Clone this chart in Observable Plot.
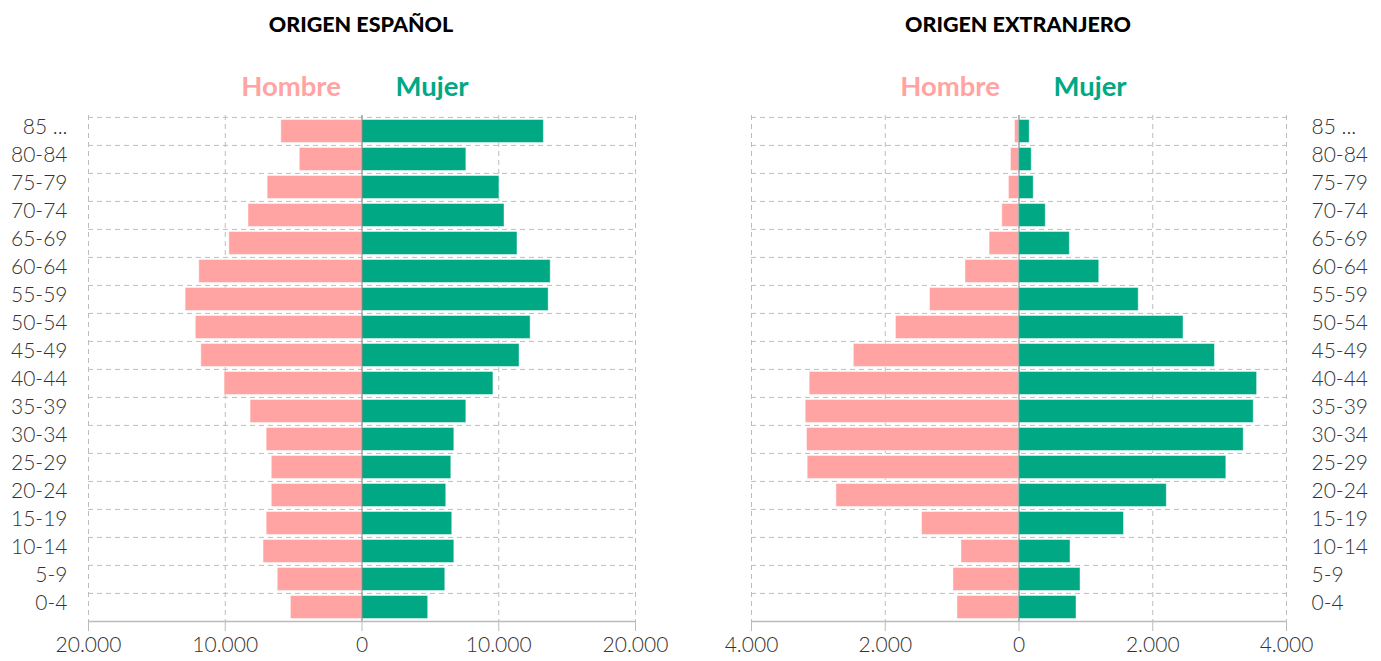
<!DOCTYPE html>
<html><head><meta charset="utf-8">
<script src="https://cdn.jsdelivr.net/npm/d3@7"></script>
<script src="https://cdn.jsdelivr.net/npm/@observablehq/plot@0.6"></script>
<style>
body{margin:0;background:#fff;font-family:Lato,sans-serif;}
#wrap{position:relative;width:1381px;height:661px;overflow:hidden}
.panel{position:absolute;top:0;height:661px}
.title{position:absolute;top:11px;font-weight:900;font-size:21.5px;transform:translateX(-50%);white-space:nowrap;color:#000;letter-spacing:0px}
.lg{position:absolute;top:69px;font-weight:700;font-size:27.5px;transform:translateX(-50%);white-space:nowrap}
</style></head>
<body>
<div id="wrap">
  <div class="title" style="left:361px">ORIGEN ESPAÑOL</div>
  <div class="title" style="left:1018px">ORIGEN EXTRANJERO</div>
  <div class="lg" id="lh1" style="left:291px">Hombre</div>
  <div class="lg" id="lm1" style="left:432px">Mujer</div>
  <div class="lg" id="lh2" style="left:950px">Hombre</div>
  <div class="lg" id="lm2" style="left:1090px">Mujer</div>
  <div class="panel" id="p1" style="left:0px;width:690px"></div>
  <div class="panel" id="p2" style="left:690px;width:691px"></div>
</div>
<script>
const ages = ["85 ...","80-84","75-79","70-74","65-69","60-64","55-59","50-54","45-49","40-44","35-39","30-34","25-29","20-24","15-19","10-14","5-9","0-4"];
const sexes = ["Hombre","Mujer"];
const colors = ["#FFA4A2","#00A884"];

const espHombre = [5900,4550,6900,8300,9700,11900,12900,12150,11750,10050,8150,6970,6600,6600,6970,7200,6160,5200];
const espMujer  = [13300,7630,10050,10420,11370,13800,13650,12330,11520,9610,7630,6750,6530,6160,6600,6750,6090,4840];
const extHombre = [60,120,150,250,440,800,1330,1840,2470,3130,3190,3170,3160,2730,1450,860,980,920];
const extMujer  = [160,190,220,400,760,1200,1790,2460,2930,3560,3510,3360,3100,2210,1570,770,920,860];

const espTicks = [-20000,-10000,0,10000,20000];
const extTicks = [-4000,-2000,0,2000,4000];

document.getElementById("lh1").style.color = colors[0];
document.getElementById("lh2").style.color = colors[0];
document.getElementById("lm1").style.color = colors[1];
document.getElementById("lm2").style.color = colors[1];

const loc = d3.formatLocale({decimal:",", thousands:".", grouping:[3], currency:["","€"]});
const fmt = loc.format(",");

function pyramid({hombre, mujer, ticks, side, width, ml, mr}) {
  const rows = ages.flatMap((a,i)=>[
    {age:a, sexo:sexes[0], v:-hombre[i]},
    {age:a, sexo:sexes[1], v:mujer[i]}
  ]);
  const H = 661, mt = 115, mb = 39;
  const step = (H - mt - mb) / ages.length;
  const max = d3.max(ticks);
  return Plot.plot({
    width, height:H, marginTop:mt, marginBottom:mb, marginLeft:ml, marginRight:mr,
    style:{fontFamily:"Lato, sans-serif", fontSize:"21px", color:"#333", fontWeight:300, overflow:"visible", background:"transparent"},
    x:{domain:[-max, max], label:null},
    y:{domain:ages, padding:0, label:null},
    color:{domain:sexes, range:colors},
    marks:[
      Plot.ruleX(ticks, {stroke:"#bdbdbd", strokeDasharray:"5,4", strokeWidth:1}),
      Plot.ruleY(ages, {y:d=>d, dy:-step/2, stroke:"#bdbdbd", strokeDasharray:"5,4", strokeWidth:1}),
      Plot.barX(rows, {x:"v", y:"age", fill:"sexo", insetTop:2.5, insetBottom:2.5, stroke:"white", strokeOpacity:0.45, strokeWidth:1}),
      Plot.ruleX([0], {stroke:"#8a8a8a", strokeWidth:1}),
      Plot.ruleY([ages[ages.length-1]], {y:d=>d, dy:step/2, stroke:"#bbbbbb", strokeWidth:1.5}),
      Plot.axisX({ticks, tickFormat:d=>fmt(Math.abs(d)), tickSize:9, tickPadding:6, stroke:"#bbbbbb", label:null}),
      Plot.axisY({anchor:side, tickSize:0, tickPadding: side==="left" ? 21 : 25, dy:-4, fontSize:21, label:null})
    ]
  });
}

document.getElementById("p1").append(pyramid({hombre:espHombre, mujer:espMujer, ticks:espTicks, side:"left", width:690, ml:88, mr:55}));
document.getElementById("p2").append(pyramid({hombre:extHombre, mujer:extMujer, ticks:extTicks, side:"right", width:691, ml:61, mr:95}));
</script>
</body></html>
